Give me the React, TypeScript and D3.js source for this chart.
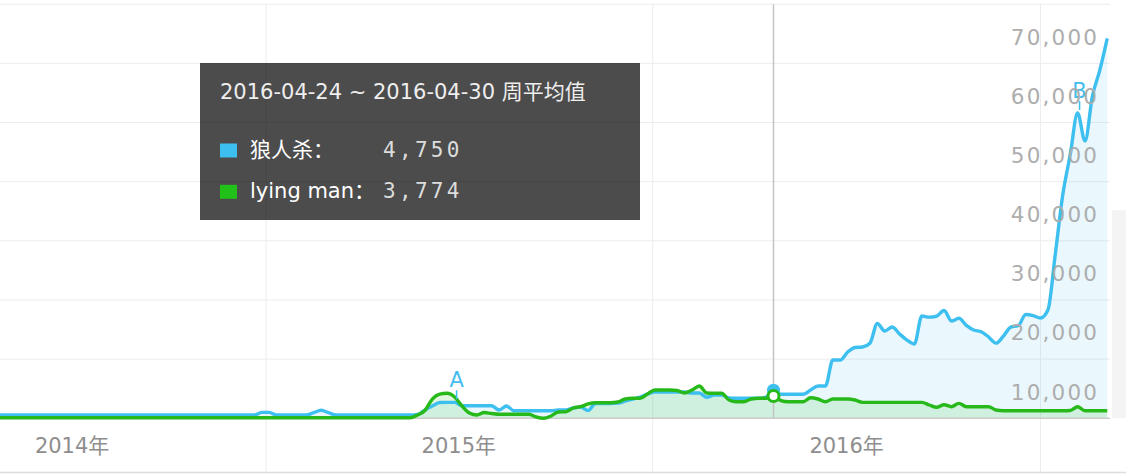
import * as d3 from "d3";
import { useEffect, useRef } from "react";

// weekly points (week start, Sunday); flat stretches keep only their end points
const weeks = [
  "2014-04-20", "2014-12-21", "2014-12-28", "2015-01-04", "2015-01-11", "2015-02-08",
  "2015-02-15", "2015-02-22", "2015-03-01", "2015-03-08", "2015-05-17", "2015-05-24",
  "2015-05-31", "2015-06-07", "2015-06-14", "2015-06-21", "2015-06-28", "2015-07-05",
  "2015-07-12", "2015-07-19", "2015-07-26", "2015-08-02", "2015-08-09", "2015-08-16",
  "2015-08-23", "2015-08-30", "2015-09-06", "2015-09-13", "2015-09-20", "2015-09-27",
  "2015-10-04", "2015-10-11", "2015-10-18", "2015-10-25", "2015-11-01", "2015-11-08",
  "2015-11-15", "2015-11-22", "2015-11-29", "2015-12-06", "2015-12-13", "2015-12-20",
  "2015-12-27", "2016-01-03", "2016-01-10", "2016-01-17", "2016-01-24", "2016-01-31",
  "2016-02-07", "2016-02-14", "2016-02-21", "2016-02-28", "2016-03-06", "2016-03-13",
  "2016-03-20", "2016-03-27", "2016-04-03", "2016-04-10", "2016-04-17", "2016-04-24",
  "2016-05-01", "2016-05-08", "2016-05-15", "2016-05-22", "2016-05-29", "2016-06-05",
  "2016-06-12", "2016-06-19", "2016-06-26", "2016-07-03", "2016-07-10", "2016-07-17",
  "2016-07-24", "2016-07-31", "2016-08-07", "2016-08-14", "2016-08-21", "2016-08-28",
  "2016-09-04", "2016-09-11", "2016-09-18", "2016-09-25", "2016-10-02", "2016-10-09",
  "2016-10-16", "2016-10-23", "2016-10-30", "2016-11-06", "2016-11-13", "2016-11-20",
  "2016-11-27", "2016-12-04", "2016-12-11", "2016-12-18", "2016-12-25", "2017-01-01",
  "2017-01-08", "2017-01-15", "2017-01-22", "2017-01-29", "2017-02-05", "2017-02-12",
  "2017-02-19", "2017-02-26", "2017-03-05",
];

// 狼人杀
const werewolf = [
  550, 550, 1000, 1000, 550, 550,
  950, 1350, 950, 550, 550, 640,
  1400, 2080, 2670, 2700, 2700, 2130,
  2130, 2130, 2130, 2130, 1400, 2080,
  1280, 1280, 1280, 1280, 1280, 1280,
  1400, 1400, 1740, 1900, 1300, 2500,
  2500, 2500, 2580, 2900, 3260, 3600,
  4100, 4450, 4450, 4450, 4450, 4450,
  4280, 4280, 3550, 3940, 3940, 3430,
  3380, 3380, 3380, 3380, 3600, 4750,
  4060, 4060, 4060, 4060, 4780, 5460,
  5460, 9850, 9850, 11200, 11960, 12050,
  12680, 16020, 14750, 15430, 14250, 13230,
  12560, 17290, 17100, 17290, 18220, 16440,
  16900, 15700, 14920, 14640, 13740, 12700,
  13900, 15430, 15650, 17540, 17370, 16950,
  18300, 27800, 37740, 44500, 51600, 46860,
  54470, 58860, 64220,
];

// lying man
const lyingMan = [
  100, 100, 100, 100, 100, 100,
  100, 100, 100, 100, 100, 560,
  1320, 3260, 4100, 4230, 3600, 2080,
  900, 560, 980, 810, 680, 680,
  680, 680, 680, 220, 0, 390,
  1060, 1110, 1740, 1960, 2420, 2640,
  2640, 2640, 2750, 3260, 3380, 3380,
  4100, 4780, 4780, 4780, 4700, 4280,
  4780, 5460, 4280, 4230, 4230, 3090,
  2800, 2800, 3260, 3380, 3380, 3774,
  3000, 2800, 2800, 2800, 3480, 3260,
  2800, 3260, 3260, 3260, 3090, 2700,
  2700, 2700, 2700, 2700, 2700, 2700,
  2700, 2700, 2250, 1860, 2300, 1960,
  2530, 1960, 1960, 1960, 1960, 1400,
  1280, 1280, 1280, 1280, 1280, 1280,
  1280, 1280, 1280, 1320, 1960, 1280,
  1280, 1280, 1280,
];

const yTicks = [10000, 20000, 30000, 40000, 50000, 60000, 70000];
const yearStarts = ["2015-01-01", "2016-01-01", "2017-01-01"];
const yearLabels = [
  { label: "2014年", mid: "2014-07-02" },
  { label: "2015年", mid: "2015-07-02" },
  { label: "2016年", mid: "2016-07-02" },
];
const hoverWeek = "2016-04-24";
const tooltipTitle = "2016-04-24 ~ 2016-04-30 周平均值";
const seriesNames = ["狼人杀：", "lying man："];
const markers = [
  { label: "A", week: "2015-06-28" },
  { label: "B", week: "2017-02-05" },
];

const BLUE = "#3dbff0";
const GREEN = "#27b91a";
const FONT = "'DejaVu Sans', 'Noto Sans CJK SC', sans-serif";

export default function App() {
  const svgRef = useRef<SVGSVGElement>(null);
  const width = 1126;
  const height = 474;
  const plotRight = 1110;

  useEffect(() => {
    const parse = d3.timeParse("%Y-%m-%d");
    const dates = weeks.map((w) => parse(w) as Date);

    const x = d3
      .scaleTime()
      .domain([parse("2015-01-01") as Date, parse("2017-01-01") as Date])
      .range([266, 1040.5]);
    const y = d3.scaleLinear().domain([0, 70000]).range([418.3, 4.2]);

    const svg = d3.select(svgRef.current);
    svg.selectAll("*").remove();
    svg.attr("width", width).attr("height", height);

    svg.append("rect").attr("width", width).attr("height", height).attr("fill", "#fff");
    svg
      .append("rect")
      .attr("x", plotRight + 2)
      .attr("y", 210)
      .attr("width", width - plotRight - 2)
      .attr("height", 208)
      .attr("fill", "#f4f4f4");

    // grid
    svg
      .append("g")
      .selectAll("line")
      .data(yTicks)
      .enter()
      .append("line")
      .attr("x1", 0)
      .attr("x2", plotRight)
      .attr("y1", (d) => y(d))
      .attr("y2", (d) => y(d))
      .attr("stroke", "#ececec")
      .attr("stroke-width", 1);

    svg
      .append("g")
      .selectAll("line")
      .data(yearStarts)
      .enter()
      .append("line")
      .attr("x1", (d) => x(parse(d) as Date))
      .attr("x2", (d) => x(parse(d) as Date))
      .attr("y1", y(70000))
      .attr("y2", 472)
      .attr("stroke", "#ececec")
      .attr("stroke-width", 1);

    svg
      .append("line")
      .attr("x1", 0)
      .attr("x2", width)
      .attr("y1", 472.5)
      .attr("y2", 472.5)
      .attr("stroke", "#dcdcdc")
      .attr("stroke-width", 1.5);

    // areas
    const area = (vals: number[]) =>
      d3
        .area<number>()
        .x((_, i) => x(dates[i]))
        .y0(y(0))
        .y1((d) => y(d))
        .curve(d3.curveMonotoneX)(vals);
    const line = (vals: number[]) =>
      d3
        .line<number>()
        .x((_, i) => x(dates[i]))
        .y((d) => y(d))
        .curve(d3.curveMonotoneX)(vals);

    svg.append("path").attr("d", area(werewolf)).attr("fill", BLUE).attr("fill-opacity", 0.11);
    svg.append("path").attr("d", area(lyingMan)).attr("fill", GREEN).attr("fill-opacity", 0.13);

    // baseline
    svg
      .append("line")
      .attr("x1", 0)
      .attr("x2", plotRight)
      .attr("y1", y(0))
      .attr("y2", y(0))
      .attr("stroke", "#cccccc")
      .attr("stroke-width", 1.5);

    // crosshair
    const hx = x(parse(hoverWeek) as Date);
    svg
      .append("line")
      .attr("x1", hx)
      .attr("x2", hx)
      .attr("y1", y(70000))
      .attr("y2", y(0))
      .attr("stroke", "#c4c4c4")
      .attr("stroke-width", 1.5);

    svg
      .append("path")
      .attr("d", line(werewolf))
      .attr("fill", "none")
      .attr("stroke", BLUE)
      .attr("stroke-width", 3.4)
      .attr("stroke-linejoin", "round");
    svg
      .append("path")
      .attr("d", line(lyingMan))
      .attr("fill", "none")
      .attr("stroke", GREEN)
      .attr("stroke-width", 3.4)
      .attr("stroke-linejoin", "round");

    // hover points
    const hi = weeks.indexOf(hoverWeek);
    svg
      .append("circle")
      .attr("cx", hx)
      .attr("cy", y(werewolf[hi]))
      .attr("r", 6.5)
      .attr("fill", BLUE);
    svg
      .append("circle")
      .attr("cx", hx)
      .attr("cy", y(lyingMan[hi]))
      .attr("r", 5.5)
      .attr("fill", "#fff")
      .attr("stroke", GREEN)
      .attr("stroke-width", 3);

    // event markers on the 狼人杀 line
    markers.forEach((m) => {
      const i = weeks.indexOf(m.week);
      const mx = x(dates[i]) + 2;
      const my = y(werewolf[i]);
      svg
        .append("line")
        .attr("x1", mx)
        .attr("x2", mx)
        .attr("y1", my - 12)
        .attr("y2", my - 3)
        .attr("stroke", BLUE)
        .attr("stroke-width", 1.5);
      svg
        .append("text")
        .attr("x", mx)
        .attr("y", my - 15)
        .attr("text-anchor", "middle")
        .attr("font-family", FONT)
        .attr("font-size", 21)
        .attr("fill", "#45bdee")
        .text(m.label);
    });

    // y labels (sit under their grid line)
    const ls = 2.2;
    svg
      .append("g")
      .selectAll("text")
      .data(yTicks)
      .enter()
      .append("text")
      .attr("x", 1097 + ls)
      .attr("y", (d) => y(d) + 40.5)
      .attr("text-anchor", "end")
      .attr("font-family", FONT)
      .attr("font-size", 21.5)
      .attr("letter-spacing", ls)
      .attr("fill", "#adadad")
      .text((d) => d3.format(",")(d));

    // x labels, centred on each year
    svg
      .append("g")
      .selectAll("text")
      .data(yearLabels)
      .enter()
      .append("text")
      .attr("x", (d) => x(parse(d.mid) as Date))
      .attr("y", 453)
      .attr("text-anchor", "middle")
      .attr("font-family", FONT)
      .attr("font-size", 21)
      .attr("fill", "#8e8e8e")
      .text((d) => d.label);

    // tooltip
    const tip = svg.append("g");
    tip
      .append("rect")
      .attr("x", 200)
      .attr("y", 63)
      .attr("width", 440)
      .attr("height", 157)
      .attr("fill", "#000")
      .attr("fill-opacity", 0.7);
    tip
      .append("text")
      .attr("x", 220)
      .attr("y", 98.5)
      .attr("font-family", FONT)
      .attr("font-size", 21)
      .attr("fill", "#eeeeee")
      .text(tooltipTitle);

    const rows = [
      { name: seriesNames[0], color: BLUE, value: werewolf[hi], base: 157 },
      { name: seriesNames[1], color: "#22c11a", value: lyingMan[hi], base: 198.3 },
    ];
    rows.forEach((r) => {
      tip
        .append("rect")
        .attr("x", 220)
        .attr("y", r.base - 13.5)
        .attr("width", 17)
        .attr("height", 14)
        .attr("fill", r.color);
      tip
        .append("text")
        .attr("x", 250)
        .attr("y", r.base)
        .attr("font-family", FONT)
        .attr("font-size", 21)
        .attr("fill", "#ffffff")
        .text(r.name);
      tip
        .append("text")
        .attr("x", 383)
        .attr("y", r.base)
        .attr("font-family", "'DejaVu Sans Mono', monospace")
        .attr("font-size", 21)
        .attr("letter-spacing", 3.3)
        .attr("fill", "#dddddd")
        .text(d3.format(",")(r.value));
    });
  }, []);

  return (
    <svg
      ref={svgRef}
      style={{ position: "absolute", left: 0, top: 0, display: "block" }}
    ></svg>
  );
}
